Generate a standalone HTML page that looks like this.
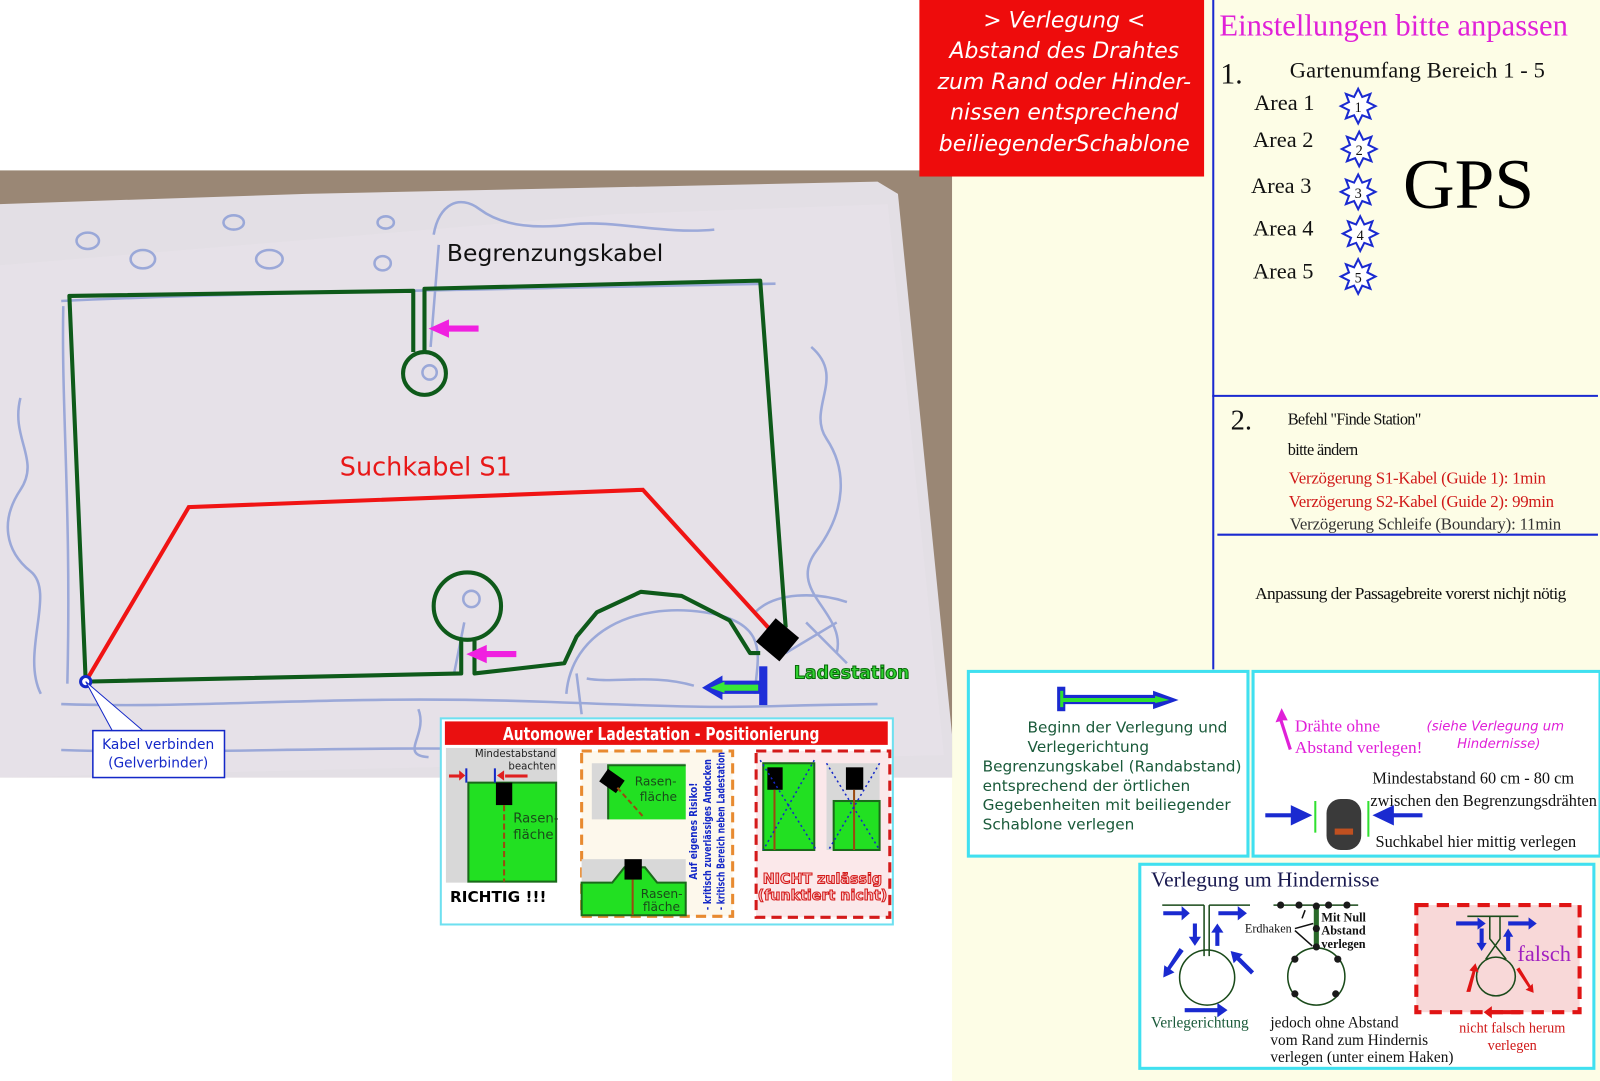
<!DOCTYPE html>
<html><head><meta charset="utf-8"><style>
html,body{margin:0;padding:0;background:#fff;}
svg{display:block}
.s{font-family:"DejaVu Sans","Liberation Sans",sans-serif}
.t{font-family:"Liberation Serif",serif}
</style></head><body>
<svg width="1600" height="1081" viewBox="0 0 1568 1059.4" preserveAspectRatio="none" xmlns="http://www.w3.org/2000/svg">
<rect width="1568" height="1060" fill="#fff"/>
<rect x="933" y="0" width="667" height="1081" fill="#fdfde6"/>
<rect x="0" y="167" width="933" height="595" fill="#9a8775"/>
<polygon points="0,200 300,190 860,178 880,190 933,720 933,762 0,762" fill="#e3dfe5"/>
<polygon points="0,260 600,210 870,200 925,740 0,762" fill="#e7e3e9" opacity="0.6"/>
<g fill="none" stroke="#8e9fd6" stroke-width="2.5" opacity="0.85">
<ellipse cx="86" cy="236" rx="11" ry="8"/><ellipse cx="140" cy="254" rx="12" ry="9"/><ellipse cx="229" cy="218" rx="10" ry="7"/><ellipse cx="264" cy="254" rx="13" ry="9"/><ellipse cx="378" cy="218" rx="8" ry="6"/><ellipse cx="375" cy="258" rx="8" ry="7"/>
<path d="M425,230 C430,200 450,190 470,205 S520,225 560,220 S650,230 700,225"/>
<path d="M60,295 C200,288 400,285 760,278"/>
<path d="M62,300 C60,400 70,500 66,670"/>
<path d="M20,390 C10,430 40,450 20,480 S5,540 30,560 S20,640 40,680"/>
<path d="M795,340 C830,370 790,400 810,430 S830,500 800,540 S830,600 820,640"/>
<path d="M60,690 C200,695 330,680 540,688 S700,692 860,690"/>
<path d="M60,735 C200,740 330,730 540,735"/>
<path d="M555,680 C560,620 620,590 690,600 S740,650 740,680"/>
<path d="M565,660 L570,700 M575,665 C600,670 640,660 680,672"/>
<path d="M410,695 C420,720 390,740 420,742"/>
<path d="M740,600 C760,580 800,580 830,590 M790,610 L830,650 M770,640 L820,610"/>
<circle cx="421" cy="365" r="7"/><circle cx="462" cy="587" r="8"/>
<path d="M430,240 L422,340 M455,610 L445,660"/>
</g>
<g fill="none" stroke="#0e5a1a" stroke-width="4" stroke-linejoin="round">
<path d="M84,668 L68,290 L405,285 L405,345"/>
<path d="M416,345 L416,283 L745,275 L770,615"/>
<circle cx="416" cy="366" r="21"/>
<path d="M745,640 L735,640 L715,608 L668,584 L628,580 L585,600 L565,624 L553,650 L465,660 L465,628"/>
<path d="M452,628 L452,660 L84,668"/>
<circle cx="458" cy="594" r="33"/>
</g>
<path d="M84,668 L185,497 L630,480 L762,625" fill="none" stroke="#f01414" stroke-width="4"/>
<g fill="#f020e0"><rect x="432" y="319" width="37" height="6"/><polygon points="420,322 440,313 440,331"/>
<rect x="470" y="638" width="36" height="6"/><polygon points="457,641 477,632 477,650"/></g>
<rect x="747" y="612" width="30" height="30" fill="#000" transform="rotate(40 762 627)"/>
<text x="778" y="665" class="s" font-size="17" font-weight="bold" fill="#30d030" stroke="#0a6a0a" stroke-width="1">Ladestation</text>
<rect x="744" y="653" width="8" height="38" fill="#1f2fd8"/>
<polygon points="745,667 708,667 708,662 688,674 708,686 708,680 745,680" fill="#1f2fd8"/>
<polygon points="743,671 710,671 710,668 696,674 710,679 710,677 743,677" fill="#38e838"/>
<text x="438" y="256" class="s" font-size="23" fill="#111">Begrenzungskabel</text>
<text x="333" y="466" class="s" font-size="25" fill="#e81818">Suchkabel S1</text>
<circle cx="84" cy="668" r="5" fill="#fff" stroke="#1428c8" stroke-width="3"/>
<polygon points="84,668 110,716 140,716" fill="#fff" stroke="#1428c8" stroke-width="1"/>
<rect x="91" y="716" width="129" height="46" fill="#fff" stroke="#1428c8" stroke-width="1.5"/>
<text x="155" y="734" class="s" font-size="13.5" fill="#1428c8" text-anchor="middle">Kabel verbinden</text>
<text x="155" y="752" class="s" font-size="13.5" fill="#1428c8" text-anchor="middle">(Gelverbinder)</text>
<rect x="432" y="704" width="443" height="202" fill="#fff" stroke="#6ee0f0" stroke-width="2"/>
<rect x="436" y="707" width="434" height="23" fill="#ea1010"/>
<text x="493" y="725" class="s" font-size="17" font-weight="bold" fill="#fff" textLength="310" lengthAdjust="spacingAndGlyphs">Automower Ladestation - Positionierung</text>
<rect x="437" y="733" width="109" height="132" fill="#d8d8d8"/>
<rect x="459" y="767" width="86" height="97" fill="#22e022" stroke="#1a6a1a" stroke-width="2"/>
<rect x="486" y="767" width="16" height="22" fill="#000"/>
<line x1="494" y1="789" x2="494" y2="864" stroke="#9a4a10" stroke-width="2" stroke-dasharray="6 3"/>
<text x="545" y="742" class="s" font-size="10" fill="#222" text-anchor="end">Mindestabstand</text>
<text x="545" y="754" class="s" font-size="10" fill="#222" text-anchor="end">beachten</text>
<text x="503" y="806" class="s" font-size="13" fill="#1a4a1a">Rasen-</text><text x="503" y="822" class="s" font-size="13" fill="#1a4a1a">fläche</text>
<g fill="#e02020"><rect x="440" y="759" width="12" height="3"/><polygon points="456,760 450,755 450,765"/><rect x="495" y="759" width="22" height="3"/><polygon points="487,760 494,755 494,765"/></g>
<line x1="457" y1="753" x2="457" y2="767" stroke="#1428c8" stroke-width="2"/><line x1="485" y1="753" x2="485" y2="767" stroke="#1428c8" stroke-width="2"/>
<text x="441" y="884" class="s" font-size="15" font-weight="bold" fill="#000">RICHTIG !!!</text>
<rect x="570" y="736" width="148" height="162" fill="#fdf8ec" stroke="#e88a30" stroke-width="3" stroke-dasharray="10 6"/>
<rect x="580" y="748" width="92" height="55" fill="#d8d8d8"/>
<rect x="596" y="750" width="76" height="53" fill="#22e022"/>
<path d="M596,803 L596,750 L672,750" fill="none" stroke="#1a6a1a" stroke-width="2"/>
<rect x="590" y="758" width="20" height="15" fill="#000" transform="rotate(35 600 765)"/>
<line x1="605" y1="772" x2="630" y2="800" stroke="#9a4a10" stroke-width="2" stroke-dasharray="5 3"/>
<text x="622" y="770" class="s" font-size="12" fill="#1a4a1a">Rasen-</text><text x="627" y="785" class="s" font-size="12" fill="#1a4a1a">fläche</text>
<rect x="570" y="842" width="102" height="55" fill="#d8d8d8"/>
<polygon points="570,865 600,865 612,850 632,850 644,865 672,865 672,897 570,897" fill="#22e022" stroke="#1a6a1a" stroke-width="2"/>
<rect x="612" y="842" width="17" height="20" fill="#000"/>
<line x1="620" y1="862" x2="620" y2="897" stroke="#9a4a10" stroke-width="2"/>
<text x="628" y="880" class="s" font-size="12" fill="#1a4a1a">Rasen-</text><text x="630" y="893" class="s" font-size="12" fill="#1a4a1a">fläche</text>
<g class="s" font-size="10" font-weight="bold" fill="#1428c8">
<text transform="translate(683 862) rotate(-90)" textLength="95" lengthAdjust="spacingAndGlyphs">Auf eigenes Risiko!</text>
<text transform="translate(697 892) rotate(-90)" textLength="148" lengthAdjust="spacingAndGlyphs">- kritisch zuverlässiges Andocken</text>
<text transform="translate(710 892) rotate(-90)" textLength="155" lengthAdjust="spacingAndGlyphs">- kritisch Bereich neben Ladestation</text></g>
<rect x="741" y="736" width="131" height="163" fill="#fbe8ea" stroke="#d41a1a" stroke-width="3" stroke-dasharray="10 6"/>
<rect x="748" y="748" width="50" height="85" fill="#22e022" stroke="#1a6a1a" stroke-width="2"/>
<rect x="752" y="752" width="15" height="22" fill="#000"/>
<line x1="759" y1="774" x2="759" y2="833" stroke="#9a4a10" stroke-width="2"/>
<rect x="810" y="748" width="52" height="85" fill="#d8d8d8"/>
<rect x="817" y="785" width="45" height="48" fill="#22e022" stroke="#1a6a1a" stroke-width="2"/>
<rect x="829" y="752" width="17" height="22" fill="#000"/>
<line x1="837" y1="774" x2="837" y2="833" stroke="#9a4a10" stroke-width="2"/>
<g stroke="#1428c8" stroke-width="1.5" stroke-dasharray="2 3"><line x1="745" y1="745" x2="800" y2="833"/><line x1="798" y1="745" x2="748" y2="833"/><line x1="810" y1="748" x2="862" y2="833"/><line x1="862" y1="748" x2="812" y2="833"/></g>
<text x="806" y="866" class="s" font-size="14" font-weight="bold" fill="#f8c8c8" stroke="#d41a1a" stroke-width="1" text-anchor="middle">NICHT zulässig</text>
<text x="806" y="882" class="s" font-size="14" font-weight="bold" fill="#f8c8c8" stroke="#d41a1a" stroke-width="1" text-anchor="middle">(funktiert nicht)</text>
<rect x="901" y="0" width="279" height="173" fill="#ee0c0c"/>
<g class="s" font-size="21.5" font-style="italic" fill="#fff" text-anchor="middle">
<text x="1043" y="27">&gt; Verlegung &lt;</text><text x="1043" y="57">Abstand des Drahtes</text><text x="1043" y="87">zum Rand oder Hinder-</text><text x="1043" y="117">nissen entsprechend</text><text x="1043" y="148">beiliegenderSchablone</text></g>
<line x1="1189" y1="0" x2="1189" y2="656" stroke="#1a2ad0" stroke-width="2"/>
<line x1="1188" y1="388" x2="1566" y2="388" stroke="#1a2ad0" stroke-width="2"/>
<line x1="1193" y1="524" x2="1566" y2="524" stroke="#1a2ad0" stroke-width="2"/>
<text x="1195" y="35" class="t" font-size="30" fill="#e020d8">Einstellungen bitte anpassen</text>
<text x="1196" y="82" class="t" font-size="29" fill="#111">1.</text>
<text x="1264" y="76" class="t" font-size="22" fill="#111" textLength="250">Gartenumfang Bereich 1 - 5</text>
<g class="t" font-size="22" fill="#111"><text x="1229" y="108">Area 1</text><text x="1228" y="144">Area 2</text><text x="1226" y="189">Area 3</text><text x="1228" y="231">Area 4</text><text x="1228" y="273">Area 5</text></g>
<g fill="#fff" stroke="#1a2ad0" stroke-width="2">
<polygon points="0,-17 4,-9 12,-12 9,-4 17,0 9,4 12,12 4,9 0,17 -4,9 -12,12 -9,4 -17,0 -9,-4 -12,-12 -4,-9" transform="translate(1331 104)"/>
<polygon points="0,-17 4,-9 12,-12 9,-4 17,0 9,4 12,12 4,9 0,17 -4,9 -12,12 -9,4 -17,0 -9,-4 -12,-12 -4,-9" transform="translate(1332 146)"/>
<polygon points="0,-17 4,-9 12,-12 9,-4 17,0 9,4 12,12 4,9 0,17 -4,9 -12,12 -9,4 -17,0 -9,-4 -12,-12 -4,-9" transform="translate(1331 188)"/>
<polygon points="0,-17 4,-9 12,-12 9,-4 17,0 9,4 12,12 4,9 0,17 -4,9 -12,12 -9,4 -17,0 -9,-4 -12,-12 -4,-9" transform="translate(1333 229)"/>
<polygon points="0,-17 4,-9 12,-12 9,-4 17,0 9,4 12,12 4,9 0,17 -4,9 -12,12 -9,4 -17,0 -9,-4 -12,-12 -4,-9" transform="translate(1331 271)"/></g>
<g class="t" font-size="14" fill="#111" text-anchor="middle"><text x="1331" y="110">1</text><text x="1332" y="152">2</text><text x="1331" y="194">3</text><text x="1333" y="235">4</text><text x="1331" y="277">5</text></g>
<text x="1375" y="204" class="t" font-size="70" fill="#000">GPS</text>
<text x="1206" y="421" class="t" font-size="28" fill="#111">2.</text>
<g class="t" fill="#111"><text x="1262" y="416" font-size="16" textLength="131">Befehl "Finde Station"</text><text x="1262" y="446" font-size="16" textLength="69">bitte ändern</text></g>
<text x="1263" y="474" class="t" font-size="16.5" fill="#d01818" textLength="252">Verzögerung S1-Kabel (Guide 1): 1min</text>
<text x="1263" y="497" class="t" font-size="16.5" fill="#d01818" textLength="260">Verzögerung S2-Kabel (Guide 2): 99min</text>
<text x="1264" y="519" class="t" font-size="16.5" fill="#333" textLength="266">Verzögerung Schleife (Boundary): 11min</text>
<text x="1230" y="587" class="t" font-size="17" fill="#111" textLength="305">Anpassung der Passagebreite vorerst nichjt nötig</text>
<rect x="949" y="658" width="274" height="181" fill="#fff" stroke="#40e0f0" stroke-width="3"/>
<rect x="1036" y="673" width="8" height="24" fill="#1a2ad0"/>
<polygon points="1040,681 1130,681 1130,677 1155,686 1130,695 1130,690 1040,690" fill="#1a2ad0"/>
<polygon points="1040,684 1132,684 1132,682 1146,686 1132,689 1132,688 1040,688" fill="#30e030"/>
<rect x="1039" y="677" width="3" height="16" fill="#30e030"/>
<g class="s" font-size="15" fill="#1a5a3a"><text x="1007" y="718">Beginn der Verlegung und</text><text x="1007" y="737">Verlegerichtung</text><text x="963" y="756">Begrenzungskabel (Randabstand)</text><text x="963" y="775">entsprechend der örtlichen</text><text x="963" y="794">Gegebenheiten mit beiliegender</text><text x="963" y="813">Schablone verlegen</text></g>
<rect x="1228" y="658" width="340" height="181" fill="#fff" stroke="#40e0f0" stroke-width="3"/>
<polygon points="1256,694 1250,708 1254,707 1263,735 1266,734 1257,706 1262,706" fill="#e020d8"/>
<text x="1269" y="717" class="t" font-size="17" fill="#e020d8">Drähte ohne</text>
<text x="1269" y="738" class="t" font-size="17" fill="#e020d8">Abstand verlegen!</text>
<text x="1398" y="716" class="s" font-size="13" font-style="italic" fill="#e020d8">(siehe Verlegung um</text>
<text x="1428" y="733" class="s" font-size="13" font-style="italic" fill="#e020d8">Hindernisse)</text>
<text x="1345" y="768" class="t" font-size="16" fill="#111">Mindestabstand 60 cm - 80 cm</text>
<text x="1343" y="790" class="t" font-size="16" fill="#111">zwischen den Begrenzungsdrähten</text>
<text x="1348" y="830" class="t" font-size="16" fill="#111">Suchkabel hier mittig verlegen</text>
<rect x="1240" y="797" width="26" height="4" fill="#1a2ad0"/><polygon points="1286,799 1265,789 1265,809" fill="#1a2ad0"/>
<rect x="1364" y="797" width="30" height="4" fill="#1a2ad0"/><polygon points="1345,799 1366,789 1366,809" fill="#1a2ad0"/>
<line x1="1289" y1="785" x2="1289" y2="816" stroke="#30e030" stroke-width="2"/><line x1="1341" y1="785" x2="1341" y2="820" stroke="#30e030" stroke-width="2"/>
<rect x="1300" y="783" width="34" height="50" rx="14" fill="#3a3a3a"/><rect x="1308" y="812" width="18" height="6" fill="#c05020"/>
<rect x="1117" y="847" width="445" height="200" fill="#fff" stroke="#40e0f0" stroke-width="3"/>
<text x="1128" y="869" class="t" font-size="21" fill="#1a1a50">Verlegung um Hindernisse</text>
<!-- left obstacle -->
<g fill="none" stroke="#1a4a1a" stroke-width="1.5">
<path d="M1139,887 L1180,887 M1185,887 L1225,887 M1180,887 L1180,937 M1185,887 L1185,937"/>
<circle cx="1183" cy="958" r="27"/>
<path d="M1248,887 L1331,887"/>
<circle cx="1290" cy="957" r="28"/>
</g>
<line x1="1290" y1="888" x2="1290" y2="928" stroke="#2a6a2a" stroke-width="5"/>
<g fill="#1a1a1a"><circle cx="1255" cy="887" r="3.5"/><circle cx="1273" cy="887" r="3.5"/><circle cx="1290" cy="888" r="3.5"/><circle cx="1302" cy="887" r="3.5"/><circle cx="1320" cy="887" r="3.5"/><circle cx="1290" cy="910" r="3.5"/><circle cx="1290" cy="928" r="3.5"/><circle cx="1269" cy="940" r="3.5"/><circle cx="1311" cy="940" r="3.5"/><circle cx="1269" cy="974" r="3.5"/><circle cx="1309" cy="974" r="3.5"/></g>
<g fill="#1a2ad0">
<polygon points="1140,893 1158,893 1158,888 1166,895 1158,902 1158,897 1140,897"/>
<polygon points="1194,893 1213,893 1213,888 1222,895 1213,902 1213,897 1194,897"/>
<polygon points="1169,905 1173,905 1173,918 1177,918 1171,927 1165,918 1169,918"/>
<polygon points="1191,927 1195,927 1195,914 1199,914 1193,905 1187,914 1191,914"/>
<polygon points="1156,929 1160,932 1147,950 1151,953 1140,958 1141,946 1144,948"/>
<polygon points="1229,952 1226,955 1212,941 1209,944 1206,932 1218,935 1215,938"/>
<polygon points="1161,988 1193,988 1193,983 1203,990 1193,997 1193,992 1161,992"/>
</g>
<rect x="1388" y="887" width="160" height="105" fill="#f8d8d8" stroke="#e01414" stroke-width="4" stroke-dasharray="12 8"/>
<path d="M1438,898 L1488,898 M1460,898 L1460,920 L1476,940 M1470,898 L1470,920 L1456,940" fill="none" stroke="#1a4a1a" stroke-width="1.5"/>
<circle cx="1466" cy="957" r="19" fill="none" stroke="#1a4a1a" stroke-width="1.5"/>
<g fill="#1a2ad0">
<polygon points="1427,903 1448,903 1448,899 1456,905 1448,911 1448,907 1427,907"/><polygon points="1478,903 1498,903 1498,899 1506,905 1498,911 1498,907 1478,907"/>
<polygon points="1450,910 1454,910 1454,924 1457,924 1452,932 1447,924 1450,924"/><polygon points="1476,932 1480,932 1480,918 1483,918 1478,910 1473,918 1476,918"/></g>
<g fill="#e01414"><polygon points="1437,972 1441,972 1446,952 1449,953 1446,944 1440,951 1443,952"/><polygon points="1486,950 1498,968 1495,970 1503,973 1502,964 1500,966 1489,948"/><polygon points="1490,990 1462,990 1462,986 1454,992 1462,998 1462,994 1490,994"/></g>
<text x="1487" y="942" class="t" font-size="22" fill="#a020c0">falsch</text>
<text x="1128" y="1007" class="t" font-size="15" fill="#1a5a3a">Verlegerichtung</text>
<g class="t" font-size="15" fill="#111"><text x="1245" y="1007">jedoch ohne Abstand</text><text x="1245" y="1024">vom Rand zum Hindernis</text><text x="1245" y="1041">verlegen (unter einem Haken)</text></g>
<g class="t" font-size="12" font-weight="bold" fill="#111"><text x="1295" y="903">Mit Null</text><text x="1295" y="916">Abstand</text><text x="1295" y="929">verlegen</text></g>
<text x="1220" y="914" class="t" font-size="12" fill="#111">Erdhaken</text>
<path d="M1269,910 L1287,905 M1269,912 L1286,927 M1276,900 L1279,892" stroke="#111" stroke-width="1.5" fill="none"/>
<text x="1482" y="1012" class="t" font-size="14" fill="#d01818" text-anchor="middle">nicht falsch herum</text>
<text x="1482" y="1029" class="t" font-size="14" fill="#d01818" text-anchor="middle">verlegen</text>
</svg>
</body></html>
